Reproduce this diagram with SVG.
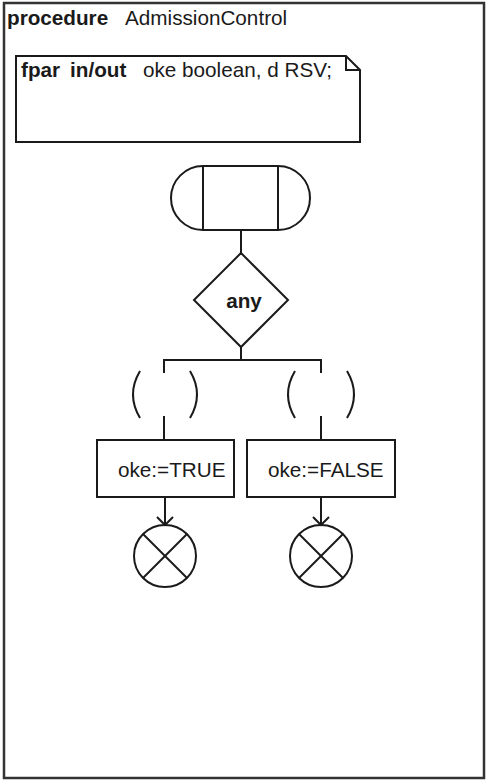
<svg xmlns="http://www.w3.org/2000/svg" width="486" height="781" viewBox="0 0 486 781">
<style>
.s{fill:none;stroke:#1a1a1a;stroke-width:2;stroke-linejoin:miter}
.w{fill:#fff;stroke:#1a1a1a;stroke-width:2}
text{font-family:"Liberation Sans",Arial,sans-serif;fill:#1a1a1a;font-size:20.7px}
.b{font-weight:bold}
</style>
<rect width="486" height="781" fill="#fff"/>
<g id="frame">
<rect x="4" y="3" width="480" height="775" fill="#fff" stroke="#333" stroke-width="2.5"/>
<text x="7" y="25" class="b" font-size="20.2">procedure</text>
<text x="125" y="25">AdmissionControl</text>
</g>
<g id="fpar-note">
<path class="w" d="M16,56 L346,56 L360,70 L360,142 L16,142 Z"/>
<path class="s" d="M346,56 L346,70 L360,70"/>
<text x="21" y="77" class="b" font-size="21.5">fpar</text>
<text x="70" y="77" class="b" font-size="21.5">in/out</text>
<text x="143" y="77">oke boolean, d RSV;</text>
</g>
<g id="connectors" class="s">
<line x1="241" y1="230" x2="241" y2="253"/>
<line x1="241" y1="347" x2="241" y2="360"/>
<line x1="164" y1="360" x2="321" y2="360"/>
<line x1="164" y1="359" x2="164" y2="373"/>
<line x1="321" y1="359" x2="321" y2="373"/>
<line x1="164" y1="416" x2="164" y2="440"/>
<line x1="321" y1="416" x2="321" y2="440"/>
<line x1="165" y1="497" x2="165" y2="525"/>
<path d="M157,517 L165,525 L173,517"/>
<line x1="321" y1="497" x2="321" y2="525"/>
<path d="M313,517 L321,525 L329,517"/>
</g>
<g id="start">
<path class="w" d="M203,166 L278,166 A32,32 0 0 1 278,230 L203,230 A32,32 0 0 1 203,166 Z"/>
<line class="s" x1="203" y1="166" x2="203" y2="230"/>
<line class="s" x1="278" y1="166" x2="278" y2="230"/>
</g>
<g id="decision">
<path class="w" d="M241,253 L288,300 L241,347 L194,300 Z"/>
<text x="244" y="308" class="b" text-anchor="middle">any</text>
</g>
<g id="answer-left" class="s">
<path d="M140,371 Q126,394.5 140,418"/>
<path d="M190,371 Q204,394.5 190,418"/>
</g>
<g id="answer-right" class="s">
<path d="M295,371 Q281,394.5 295,418"/>
<path d="M347,371 Q361,394.5 347,418"/>
</g>
<g id="task-true">
<rect class="w" x="97" y="440" width="137" height="57"/>
<text x="118" y="477">oke:=TRUE</text>
</g>
<g id="task-false">
<rect class="w" x="247" y="440" width="148" height="57"/>
<text x="268" y="477">oke:=FALSE</text>
</g>
<g id="stop-left" class="s">
<circle cx="165" cy="556" r="31"/>
<line x1="143" y1="534" x2="187" y2="578"/>
<line x1="187" y1="534" x2="143" y2="578"/>
</g>
<g id="stop-right" class="s">
<circle cx="321" cy="556" r="31"/>
<line x1="299" y1="534" x2="343" y2="578"/>
<line x1="343" y1="534" x2="299" y2="578"/>
</g>
</svg>
